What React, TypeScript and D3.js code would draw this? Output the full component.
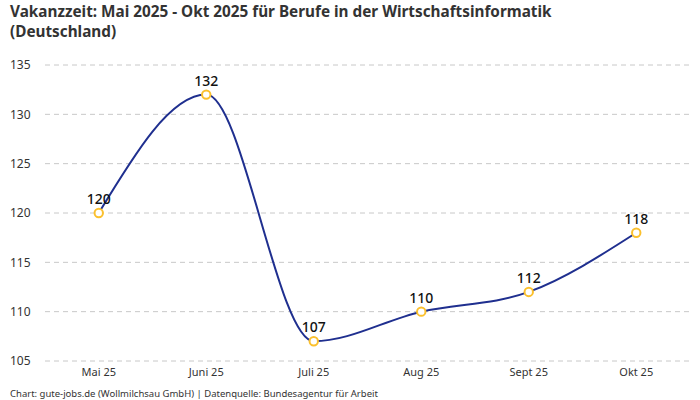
import React from "react";
import * as d3 from "d3";

const WIDTH = 700;
const HEIGHT = 400;

const months = ["Mai 25", "Juni 25", "Juli 25", "Aug 25", "Sept 25", "Okt 25"];
const vacancyDays = [120, 132, 107, 110, 112, 118];
const yTicks = [105, 110, 115, 120, 125, 130, 135];

const titleLines = [
  "Vakanzzeit: Mai 2025 - Okt 2025 für Berufe in der Wirtschaftsinformatik",
  "(Deutschland)",
];
const footer = "Chart: gute-jobs.de (Wollmilchsau GmbH) | Datenquelle: Bundesagentur für Arbeit";

const FONT = "'Noto Sans', 'DejaVu Sans', sans-serif";

export default function App() {
  const margin = { top: 65, right: 10, bottom: 39, left: 45 };

  const x = d3
    .scalePoint<string>()
    .domain(months)
    .range([margin.left, WIDTH - margin.right])
    .padding(0.5);

  const y = d3
    .scaleLinear()
    .domain([105, 135])
    .range([HEIGHT - margin.bottom, margin.top]);

  const points = months.map((m, i) => ({ m, v: vacancyDays[i] }));

  const line = d3
    .line<{ m: string; v: number }>()
    .x((d) => x(d.m)!)
    .y((d) => y(d.v))
    .curve(d3.curveMonotoneX);

  return (
    <svg
      width={WIDTH}
      height={HEIGHT}
      style={{ position: "absolute", left: 0, top: 0, background: "#fff" }}
      fontFamily={FONT}
    >
      {/* title */}
      {titleLines.map((t, i) => (
        <text key={i} x={10} y={17 + i * 19.5} fontSize={15.3} fontWeight={700} fill="#333">
          {t}
        </text>
      ))}

      {/* grid + y labels */}
      {yTicks.map((t) => (
        <g key={t}>
          <line
            x1={margin.left}
            x2={WIDTH - margin.right}
            y1={y(t)}
            y2={y(t)}
            stroke="#c8c8c8"
            strokeDasharray="5,4"
          />
          <text x={10} y={y(t)} dy="0.35em" fontSize={12} fill="#333">
            {t}
          </text>
        </g>
      ))}

      {/* x labels */}
      {months.map((m) => (
        <text key={m} x={x(m)} y={HEIGHT - 24} textAnchor="middle" fontSize={11} fill="#333">
          {m}
        </text>
      ))}

      <path d={line(points)!} fill="none" stroke="#1f2f8f" strokeWidth={2} />

      {points.map((d) => (
        <g key={d.m}>
          <circle cx={x(d.m)} cy={y(d.v)} r={4.2} fill="#fff" stroke="#fbc02d" strokeWidth={2} />
          <text
            x={x(d.m)}
            y={y(d.v) - 9}
            textAnchor="middle"
            fontSize={14}
            fontWeight={500}
            fill="#111"
          >
            {d.v}
          </text>
        </g>
      ))}

      <text x={10} y={397} fontSize={9.5} fill="#333">
        {footer}
      </text>
    </svg>
  );
}
